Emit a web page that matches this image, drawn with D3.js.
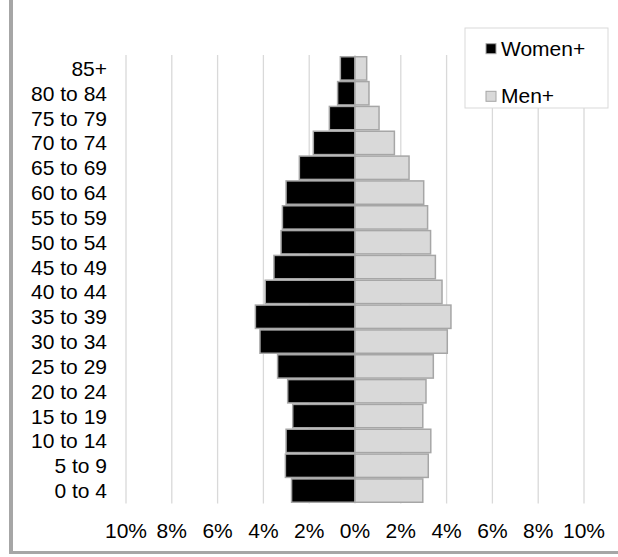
<!DOCTYPE html>
<html><head><meta charset="utf-8">
<script src="https://cdn.jsdelivr.net/npm/d3@7"></script>
<style>html,body{margin:0;padding:0;background:#fff;overflow:hidden;}svg{display:block;}</style>
</head><body>
<svg id="c" width="618" height="557"></svg>
<script>
const ageGroups = ["85+","80 to 84","75 to 79","70 to 74","65 to 69","60 to 64","55 to 59","50 to 54","45 to 49","40 to 44","35 to 39","30 to 34","25 to 29","20 to 24","15 to 19","10 to 14","5 to 9","0 to 4"];
const women = [0.64,0.76,1.12,1.82,2.43,3.01,3.17,3.23,3.54,3.92,4.35,4.15,3.38,2.94,2.72,3.01,3.04,2.77];
const men   = [0.51,0.61,1.05,1.72,2.36,3.0,3.17,3.30,3.51,3.80,4.19,4.03,3.42,3.10,2.96,3.31,3.20,2.96];
const xTicks = [-10,-8,-6,-4,-2,0,2,4,6,8,10];
const seriesNames = ["Women+","Men+"];

const svg = d3.select("#c");
const font = "Liberation Sans, Arial, sans-serif";
const fs = 21;

// frame
svg.append("rect").attr("x",9).attr("y",0).attr("width",4).attr("height",554).attr("fill","#a6a6a6");
svg.append("rect").attr("x",9).attr("y",551).attr("width",609).attr("height",3).attr("fill","#a6a6a6");

const x = d3.scaleLinear().domain([-10,10]).range([126,584]);
const y = d3.scaleBand().domain(ageGroups).range([56,503]).paddingInner(0.06).paddingOuter(0.03);

// gridlines
svg.append("g").selectAll("line").data(xTicks).join("line")
  .attr("x1",d=>x(d)).attr("x2",d=>x(d)).attr("y1",55).attr("y2",503.5)
  .attr("stroke","#d9d9d9").attr("stroke-width",1.3);

// bars
const rows = ageGroups.map((a,i)=>({a, w:women[i], m:men[i]}));
svg.append("g").selectAll("rect").data(rows).join("rect")
  .attr("x",d=>x(-d.w)).attr("y",d=>y(d.a)).attr("width",d=>x(0)-x(-d.w)).attr("height",y.bandwidth())
  .attr("fill","#000").attr("stroke","#a6a6a6").attr("stroke-width",1.5);
svg.append("g").selectAll("rect").data(rows).join("rect")
  .attr("x",d=>x(0)).attr("y",d=>y(d.a)).attr("width",d=>x(d.m)-x(0)).attr("height",y.bandwidth())
  .attr("fill","#d9d9d9").attr("stroke","#a6a6a6").attr("stroke-width",1.5);

// y labels
svg.append("g").selectAll("text").data(ageGroups).join("text")
  .attr("x",107).attr("y",d=>y(d)+y.bandwidth()/2).attr("dy","0.36em")
  .attr("text-anchor","end").attr("font-family",font).attr("font-size",fs).attr("fill","#000")
  .text(d=>d);

// x labels
svg.append("g").selectAll("text").data(xTicks).join("text")
  .attr("x",d=>x(d)).attr("y",538)
  .attr("text-anchor","middle").attr("font-family",font).attr("font-size",fs).attr("fill","#000")
  .text(d=>Math.abs(d)+"%");

// legend
const lg = svg.append("g");
lg.append("rect").attr("x",465).attr("y",28).attr("width",143).attr("height",80)
  .attr("fill","#fff").attr("stroke","#d9d9d9").attr("stroke-width",1);
const legFill = ["#000","#d9d9d9"];
const legBase = [55.7,103.3];
seriesNames.forEach((n,i)=>{
  lg.append("rect").attr("x",486).attr("y",legBase[i]-12).attr("width",10).attr("height",10)
    .attr("fill",legFill[i]).attr("stroke","#a6a6a6").attr("stroke-width",1);
  lg.append("text").attr("x",501).attr("y",legBase[i])
    .attr("font-family",font).attr("font-size",fs).attr("fill","#000").text(n);
});
</script>
</body></html>
